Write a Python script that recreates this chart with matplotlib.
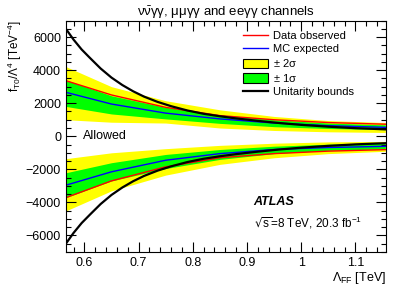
import numpy as np
import matplotlib
matplotlib.use("Agg")
import matplotlib.pyplot as plt
from matplotlib.patches import Patch
from matplotlib.lines import Line2D
from matplotlib.ticker import MultipleLocator

plt.rcParams['font.family'] = ['Liberation Sans', 'DejaVu Sans']
plt.rcParams['mathtext.default'] = 'regular'

# band nodes (Lambda_FF in TeV)
lam = [0.567, 0.65, 0.75, 0.85, 0.95, 1.05, 1.155]

# upper limits on f_T0/Lambda^4
up_y2_hi = [4200, 3000, 2150, 1600, 1200, 950, 830]
up_y1_hi = [3400, 2450, 1750, 1300, 1000, 800, 690]
up_exp = [2650, 1950, 1400, 1050, 800, 640, 540]
up_y1_lo = [1800, 1350, 1050, 780, 580, 470, 400]
up_y2_lo = [1000, 850, 800, 500, 350, 270, 230]
up_obs = [3350, 2500, 1750, 1250, 1000, 830, 730]

# lower limits
lo_y2_hi = [-1350, -1000, -750, -550, -420, -340, -310]
lo_y1_hi = [-2200, -1600, -1100, -800, -600, -480, -430]
lo_exp = [-2950, -2150, -1450, -1050, -800, -680, -610]
lo_y1_lo = [-3700, -2700, -1950, -1400, -1050, -850, -760]
lo_y2_lo = [-4500, -3300, -2350, -1700, -1300, -1050, -910]
lo_obs = [-3700, -2700, -1850, -1300, -1050, -900, -810]

# unitarity bound
lam_u = [0.567, 0.58, 0.595, 0.61, 0.63, 0.65, 0.67, 0.69, 0.71, 0.735,
         0.76, 0.79, 0.82, 0.85, 0.88, 0.92, 0.96, 1.0, 1.05, 1.1, 1.155]
unit = [6450, 5850, 5250, 4750, 4100, 3550, 3100, 2720, 2400, 2080,
        1820, 1560, 1360, 1210, 1080, 930, 800, 690, 580, 490, 420]

fig = plt.figure(figsize=(4.07, 2.94), dpi=100)
ax = fig.add_axes([0.162, 0.143, 0.786, 0.787])

for hi2, hi1, lo1, lo2, exp, obs in [
        (up_y2_hi, up_y1_hi, up_y1_lo, up_y2_lo, up_exp, up_obs),
        (lo_y2_hi, lo_y1_hi, lo_y1_lo, lo_y2_lo, lo_exp, lo_obs)]:
    ax.fill_between(lam, lo2, hi2, color='#ffff00', lw=0)
    ax.fill_between(lam, lo1, hi1, color='#00ff00', lw=0)
    ax.plot(lam, exp, color='#0000ff', lw=1)
    ax.plot(lam, obs, color='#ff0000', lw=1)

ax.plot(lam_u, unit, color='k', lw=1.6)
ax.plot(lam_u, [-u for u in unit], color='k', lw=1.6)

ax.set_xlim(0.566, 1.156)
ax.set_ylim(-7000, 7000)
ax.xaxis.set_minor_locator(MultipleLocator(0.02))
ax.yaxis.set_major_locator(MultipleLocator(2000))
ax.yaxis.set_minor_locator(MultipleLocator(500))
ax.set_xticks([0.6, 0.7, 0.8, 0.9, 1.0, 1.1])
ax.set_xticklabels(['0.6', '0.7', '0.8', '0.9', '1', '1.1'])
ax.tick_params(which='both', direction='in', top=True, right=True,
               labelsize=9, width=0.8)
ax.tick_params(which='major', length=7)
ax.tick_params(which='minor', length=3.5)
for s in ax.spines.values():
    s.set_linewidth(0.8)

ax.set_title(r'$\nu\bar{\nu}\gamma\gamma$, $\mu\mu\gamma\gamma$ and ee$\gamma\gamma$ channels',
             fontsize=9.5, pad=3)
ax.set_xlabel(r'$\Lambda_{FF}$ [TeV]', fontsize=9, loc='right', labelpad=1)
ax.set_ylabel(r'$f_{T0}/\Lambda^4$ [TeV$^{-4}$]', fontsize=8.5, loc='top', labelpad=1)

ax.text(0.597, 0, 'Allowed', fontsize=9, va='center', ha='left')
ax.text(0.912, -4000, 'ATLAS', fontsize=9, fontweight='bold', style='italic',
        va='center')
ax.text(0.912, -5250, r'$\sqrt{s}$=8 TeV, 20.3 fb$^{-1}$', fontsize=8.5,
        va='center')

handles = [Line2D([], [], color='#ff0000', lw=1),
           Line2D([], [], color='#0000ff', lw=1),
           Patch(facecolor='#ffff00', edgecolor='k', lw=0.8),
           Patch(facecolor='#00ff00', edgecolor='k', lw=0.8),
           Line2D([], [], color='k', lw=1.6)]
labels = ['Data observed', 'MC expected', r'$\pm$ 2$\sigma$', r'$\pm$ 1$\sigma$',
          'Unitarity bounds']
ax.legend(handles, labels, loc='upper left', bbox_to_anchor=(0.53, 0.99),
          frameon=False, fontsize=8, handlelength=2.2, handleheight=0.9,
          labelspacing=0.25, borderaxespad=0.3, handletextpad=0.5)

fig.savefig('out.png', dpi=100)
